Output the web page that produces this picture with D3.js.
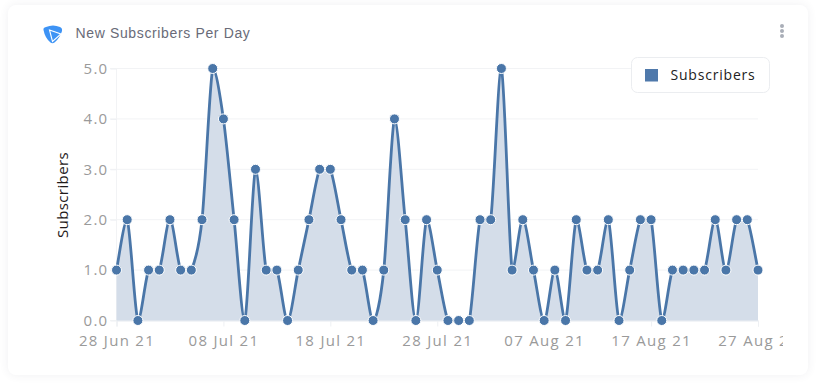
<!DOCTYPE html>
<html lang="en">
<head>
    <meta charset="UTF-8"/>
    <title>New Subscribers Per Day</title>
    <script src="https://d3js.org/d3.v7.min.js"></script>
    <style>
        html, body { margin: 0; padding: 0; background: #fff; overflow: hidden; }
        #card {
            position: absolute; left: 8px; top: 5px; width: 800px; height: 370px;
            background: #fff; border-radius: 8px;
            box-shadow: 0 0 10px rgba(60, 70, 90, 0.08);
        }
        svg { position: absolute; left: 0; top: 0; }
        .axis-label { font-family: "Open Sans", sans-serif; font-size: 15px; fill: #9a9a9a; letter-spacing: 1.3px; }
    </style>
</head>
<body>
    <div id="card"></div>
    <script>
        var w = 818;
        var h = 388;

        var seriesName = "Subscribers";
        var titleText = "New Subscribers Per Day";
        var startDate = "2021-06-28";
        // one value per day, 28 Jun to 27 Aug 2021
        var values = [1, 2, 0, 1, 1, 2, 1, 1, 2, 5, 4, 2, 0, 3, 1, 1, 0, 1, 2, 3, 3, 2, 1, 1, 0, 1, 4, 2, 0, 2,
                      1, 0, 0, 0, 2, 2, 5, 1, 2, 1, 0, 1, 0, 2, 1, 1, 2, 0, 1, 2, 2, 0, 1, 1, 1, 1, 2, 1, 2, 2, 1];
        var yTicks = [0, 1, 2, 3, 4, 5];
        var xTickDays = [0, 10, 20, 30, 40, 50, 60];

        var parseDate = d3.utcParse("%Y-%m-%d");
        var start = parseDate(startDate);
        var dates = values.map(function(d, i) { return d3.utcDay.offset(start, i); });
        var xTicks = xTickDays.map(function(d) { return d3.utcDay.offset(start, d); });

        // Tight spline: short control handles, clamped so it never swings past a point
        function tightCurve(context) {
            var smooth = 0.3;
            var pts, inArea = false, second = false;
            function clamp(v, a, b) { return Math.max(Math.min(a, b), Math.min(Math.max(a, b), v)); }
            return {
                areaStart: function() { inArea = true; second = false; },
                areaEnd: function() { context.closePath(); inArea = false; },
                lineStart: function() { pts = []; },
                point: function(x, y) { pts.push([+x, +y]); },
                lineEnd: function() {
                    if (inArea && second) context.lineTo(pts[0][0], pts[0][1]);
                    else context.moveTo(pts[0][0], pts[0][1]);
                    second = true;
                    for (var i = 0; i < pts.length - 1; i++) {
                        var p = pts[i], q = pts[i + 1];
                        var a = pts[i - 1] || p, b = pts[i + 2] || q;
                        var c1x = p[0] + (q[0] - a[0]) * smooth * 0.5;
                        var c1y = clamp(p[1] + (q[1] - a[1]) * smooth * 0.5, p[1], q[1]);
                        var c2x = q[0] - (b[0] - p[0]) * smooth * 0.5;
                        var c2y = clamp(q[1] - (b[1] - p[1]) * smooth * 0.5, p[1], q[1]);
                        context.bezierCurveTo(c1x, c1y, c2x, c2y, q[0], q[1]);
                    }
                }
            };
        }

        var xScale = d3.scaleUtc()
            .domain([dates[0], dates[dates.length - 1]])
            .range([116.5, 758]);

        var yScale = d3.scaleLinear()
            .domain([0, 5])
            .range([320.5, 68.5]);

        var svg = d3.select("body")
            .append("svg")
            .attr("width", w)
            .attr("height", h);

        // clip keeps the last date label cut off like the original
        svg.append("clipPath")
            .attr("id", "chart-clip")
            .append("rect")
            .attr("x", 0)
            .attr("y", 0)
            .attr("width", 783)
            .attr("height", h);

        var chart = svg.append("g").attr("clip-path", "url(#chart-clip)");

        // Grid lines
        chart.append("g")
            .selectAll("line")
            .data(yTicks)
            .enter()
            .append("line")
            .attr("x1", 110)
            .attr("x2", 758)
            .attr("y1", function(d) { return yScale(d); })
            .attr("y2", function(d) { return yScale(d); })
            .attr("stroke", "#f2f3f5")
            .attr("stroke-width", 1);

        chart.append("line")
            .attr("x1", 116.5)
            .attr("x2", 116.5)
            .attr("y1", 68.5)
            .attr("y2", 320.5)
            .attr("stroke", "#f2f3f5");

        // Axes
        var yAxis = chart.append("g")
            .attr("transform", "translate(116.5,0)")
            .call(d3.axisLeft(yScale).tickValues(yTicks).tickSize(6).tickPadding(2)
                .tickFormat(d3.format(".1f")));

        var xAxis = chart.append("g")
            .attr("transform", "translate(0,320.5)")
            .call(d3.axisBottom(xScale).tickValues(xTicks).tickSize(6).tickPadding(8.8)
                .tickFormat(d3.utcFormat("%d %b %y")));

        yAxis.select(".domain").remove();
        xAxis.select(".domain").attr("stroke", "#e6eaf0");
        chart.selectAll(".tick line").attr("stroke", "#eef0f3");
        chart.selectAll(".tick text").attr("class", "axis-label").attr("fill", null);

        // Area and line
        var area = d3.area()
            .x(function(d, i) { return xScale(dates[i]); })
            .y0(yScale(0))
            .y1(function(d) { return yScale(d); })
            .curve(tightCurve);

        var line = d3.line()
            .x(function(d, i) { return xScale(dates[i]); })
            .y(function(d) { return yScale(d); })
            .curve(tightCurve);

        chart.append("path")
            .datum(values)
            .attr("d", area)
            .attr("fill", "#d4dde9");

        chart.append("path")
            .datum(values)
            .attr("d", line)
            .attr("fill", "none")
            .attr("stroke", "#4a76a8")
            .attr("stroke-width", 2.8);

        chart.selectAll("circle")
            .data(values)
            .enter()
            .append("circle")
            .attr("cx", function(d, i) { return xScale(dates[i]); })
            .attr("cy", function(d) { return yScale(d); })
            .attr("r", 5)
            .attr("fill", "#4a76a8")
            .attr("stroke", "#fff")
            .attr("stroke-width", 1);

        // Y axis title
        svg.append("text")
            .attr("transform", "translate(68,195) rotate(-90)")
            .attr("text-anchor", "middle")
            .attr("font-family", "'Open Sans', sans-serif")
            .attr("font-size", 15)
            .attr("letter-spacing", 0.4)
            .attr("fill", "#1f1a1a")
            .text(seriesName);

        // Title and icon
        svg.append("text")
            .attr("x", 75.5)
            .attr("y", 38)
            .attr("font-family", "'Liberation Sans', sans-serif")
            .attr("font-size", 14)
            .attr("letter-spacing", 0.64)
            .attr("fill", "#696b78")
            .text(titleText);

        svg.append("path")
            .attr("d", "M43.5 30 Q43 27.5 46 27 Q53 24 60 27 Q62.5 28 62 31 Q60 38 54.5 42.5 Q52.5 44 50.5 42.5 Q45 38 43.5 30 Z")
            .attr("fill", "#3d93f5");
        svg.append("path")
            .attr("d", "M49.5 30 L61 34 L52.5 41.5 Z")
            .attr("fill", "none")
            .attr("stroke", "#fff")
            .attr("stroke-width", 1.1);

        // Menu dots
        svg.selectAll(".menu-dot")
            .data([26, 31, 36])
            .enter()
            .append("circle")
            .attr("class", "menu-dot")
            .attr("cx", 782)
            .attr("cy", function(d) { return d; })
            .attr("r", 2)
            .attr("fill", "#a9aeb8");

        // Legend
        svg.append("rect")
            .attr("x", 631.5)
            .attr("y", 57.5)
            .attr("width", 138)
            .attr("height", 35)
            .attr("rx", 6)
            .attr("fill", "#fff")
            .attr("stroke", "#ebedf0");

        svg.append("rect")
            .attr("x", 645)
            .attr("y", 69)
            .attr("width", 13)
            .attr("height", 12.5)
            .attr("fill", "#4f79ab");

        svg.append("text")
            .attr("x", 670.5)
            .attr("y", 80)
            .attr("font-family", "'Open Sans', sans-serif")
            .attr("font-size", 14)
            .attr("letter-spacing", 0.8)
            .attr("fill", "#222")
            .text(seriesName);
    </script>
</body>
</html>
